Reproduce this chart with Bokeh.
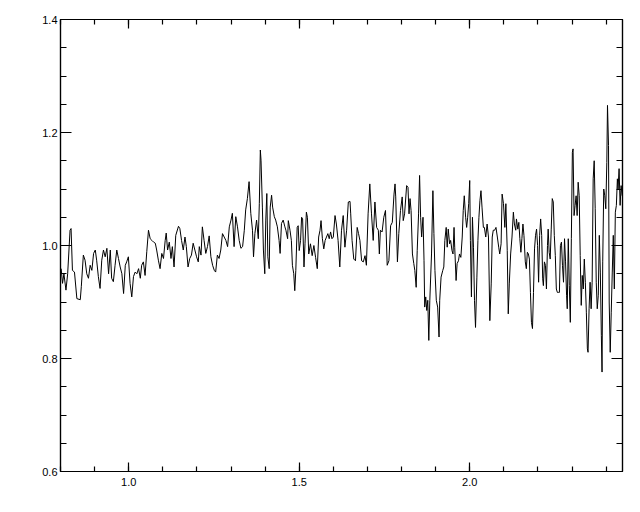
from bokeh.plotting import figure
from bokeh.models import Range1d, LinearAxis, FixedTicker, PrintfTickFormatter, CustomJSTickFormatter
from bokeh.embed import file_html
from bokeh.resources import INLINE

# ---- data (wavelength, normalised flux) ----
wl_a = [0.802,0.806,0.810,0.816,0.821,0.828,0.831,0.835,0.841,0.848,0.858,0.861,0.867,0.872,0.877,0.882,0.887,0.892,0.897,0.902,
        0.906,0.911,0.916,0.921,0.926,0.931,0.936,0.941,0.946,0.950,0.955,0.960,0.965,0.970,0.975,0.980,0.985,0.990,0.994,0.999,
        1.004,1.009,1.014,1.019,1.024,1.029,1.034,1.038,1.043,1.048,1.053,1.058,1.063,1.068,1.073,1.078,1.082,1.087,1.092,1.097,
        1.102,1.107,1.110,1.114,1.119,1.124,1.128,1.133]
flux_a = [0.959,0.933,0.950,0.921,0.950,1.027,1.030,0.956,0.953,0.906,0.904,0.927,0.983,0.974,0.950,0.942,0.965,0.956,0.986,0.992,
          0.974,0.945,0.924,0.974,0.992,0.980,0.995,0.950,0.992,0.942,0.936,0.965,0.992,0.977,0.962,0.950,0.915,0.965,0.971,0.980,
          0.933,0.909,0.945,0.953,0.950,0.959,0.942,0.965,0.971,0.947,0.989,1.027,1.012,1.009,1.006,1.004,0.992,0.974,0.959,0.986,
          0.977,1.009,1.022,0.992,1.006,0.977,0.998,0.962]

wl_b = [1.138,1.146,1.150,1.155,1.160,1.165,1.169,1.174,1.179,1.184,1.189,1.194,1.199,1.204,1.207,1.212,1.216,1.221,1.226,1.231,
        1.236,1.241,1.246,1.251,1.255,1.260,1.265,1.270,1.275,1.280,1.285,1.290,1.295,1.300,1.304,1.309,1.314,1.319,1.324,1.329,
        1.334,1.339,1.343,1.348,1.353,1.358,1.363,1.366,1.370,1.375,1.380,1.383,1.386,1.388,1.392,1.395,1.399,1.402,1.405,1.408,
        1.412,1.415,1.419,1.422,1.427,1.431,1.436,1.441,1.444,1.448,1.453,1.458,1.461,1.466]
flux_b = [1.018,1.034,1.030,1.009,0.992,1.015,0.998,0.962,0.977,0.983,1.004,0.992,0.980,0.971,0.998,0.983,1.033,1.009,0.986,0.998,
          1.017,0.980,0.965,0.956,0.953,0.983,0.977,0.992,1.021,1.015,1.009,0.998,1.033,1.045,1.057,0.998,1.051,1.033,1.009,0.995,
          0.998,1.027,1.063,1.083,1.113,1.057,1.027,0.980,1.021,1.045,1.012,1.074,1.169,1.151,1.068,0.992,0.950,1.045,1.092,0.980,
          0.959,1.068,1.089,1.068,1.051,1.045,1.033,1.009,0.986,1.039,1.045,1.033,1.027,1.012]

wl_c = [1.468,1.473,1.477,1.480,1.484,1.487,1.490,1.494,1.497,1.500,1.504,1.507,1.510,1.514,1.517,1.521,1.524,1.528,1.533,1.538,
        1.543,1.548,1.553,1.557,1.561,1.564,1.568,1.572,1.576,1.580,1.584,1.588,1.592,1.596,1.600,1.605,1.609,1.614,1.619,1.624,
        1.629,1.634,1.639,1.644,1.649,1.651,1.655,1.660,1.665,1.670,1.674,1.678,1.683,1.688,1.693,1.697,1.702,1.707,1.712,1.717,
        1.722,1.727,1.732,1.735,1.738,1.743,1.748,1.753,1.758,1.763,1.768,1.773,1.778,1.781,1.783,1.788,1.792,1.797]
flux_c = [1.044,1.027,1.009,0.965,0.950,0.920,0.956,1.032,1.035,0.991,1.009,1.050,1.047,0.962,1.003,1.059,1.050,0.985,1.003,0.982,
          1.000,0.979,0.959,1.015,1.027,1.044,1.012,0.994,1.009,1.015,1.021,1.012,1.024,1.012,1.015,1.053,1.038,1.009,0.962,1.027,
          1.053,0.997,1.027,1.077,1.078,1.056,1.009,0.976,0.973,1.032,1.021,1.009,0.973,0.971,0.982,0.965,1.056,1.109,1.056,1.009,
          1.077,1.032,1.027,0.985,1.027,1.024,1.050,1.062,0.965,0.973,1.035,1.041,1.091,1.109,1.086,0.971,1.021,1.062]

wl_d = [1.802,1.805,1.809,1.815,1.819,1.822,1.825,1.828,1.832,1.836,1.839,1.843,1.846,1.850,1.853,1.856,1.859,1.863,1.866,1.868,
        1.871,1.874,1.877,1.880,1.883,1.888,1.892,1.895,1.898,1.902,1.906,1.910,1.912,1.916,1.921,1.924,1.927,1.931,1.934,1.937,
        1.941,1.944,1.948,1.951,1.954,1.956,1.960,1.963,1.967,1.970,1.974,1.978,1.981,1.984,1.988,1.991,1.994,1.997,2.000,2.002,
        2.005,2.008,2.011,2.014,2.017,2.021,2.024,2.027,2.030,2.033,2.036,2.040,2.043,2.047,2.051,2.055,2.059,2.063,2.066,2.069,
        2.073,2.077,2.081,2.085,2.088,2.092,2.095,2.099,2.103,2.106,2.110,2.113,2.116,2.120,2.124,2.128,2.131,2.135]
flux_d = [1.086,1.044,1.056,1.106,1.103,1.056,1.083,1.062,0.985,0.968,0.956,0.926,0.991,1.056,1.124,1.050,1.015,1.050,0.973,0.891,
          0.909,0.885,0.903,0.832,0.903,0.985,1.097,1.021,0.956,0.903,0.891,0.838,0.903,0.944,0.956,0.962,1.009,1.032,0.997,1.029,
          1.003,1.009,0.991,0.985,1.032,0.997,0.938,0.968,0.973,0.985,0.979,1.015,1.062,1.088,1.050,1.032,1.050,1.074,1.115,1.009,
          0.909,1.050,0.997,0.903,0.855,0.944,1.009,1.050,1.080,1.097,1.068,1.032,1.032,1.015,1.038,1.015,0.867,0.932,1.015,1.027,
          1.027,1.032,1.015,0.997,0.985,1.003,1.091,1.074,1.032,1.074,0.991,0.879,0.932,0.985,1.015,1.059,1.038,1.027]

wl_e = [2.137,2.141,2.144,2.147,2.150,2.153,2.156,2.159,2.163,2.166,2.169,2.172,2.175,2.178,2.181,2.184,2.187,2.190,2.193,2.196,
        2.199,2.202,2.205,2.208,2.211,2.214,2.216,2.219,2.222,2.225,2.228,2.230,2.233,2.236,2.239,2.242,2.245,2.248,2.251,2.254,
        2.257,2.260,2.263,2.266,2.269,2.272,2.275,2.278,2.281,2.284,2.286,2.289,2.292,2.295,2.298,2.301,2.303,2.306,2.309,2.312,
        2.315,2.318,2.321,2.324,2.327,2.330,2.333,2.336,2.339,2.342,2.345,2.347,2.350,2.353,2.356,2.359,2.362,2.365,2.368,2.371,
        2.374,2.377,2.380,2.383,2.386,2.388,2.390,2.393,2.396,2.399,2.402,2.404,2.407,2.409,2.412,2.415,2.418,2.421,2.424,2.427,
        2.430,2.433,2.435,2.438,2.441,2.444,2.447]
flux_e = [1.047,1.029,1.041,1.012,0.988,1.012,1.038,1.018,0.971,0.959,0.988,0.985,0.976,0.917,0.864,0.853,0.917,0.994,1.018,1.029,
          1.000,0.935,1.018,1.047,1.018,0.941,0.929,0.971,0.965,0.923,1.000,1.029,0.988,0.976,1.029,1.083,1.077,1.018,0.982,0.923,
          0.917,0.917,0.917,1.000,1.006,0.965,0.935,1.012,0.971,0.912,0.888,1.012,0.929,0.864,1.012,1.165,1.171,1.053,1.071,1.088,
          1.053,1.112,1.088,0.982,0.894,0.947,0.923,0.976,0.935,0.882,0.817,0.811,0.888,0.935,0.888,0.935,1.118,1.150,1.065,0.935,
          0.888,0.912,1.018,0.953,0.841,0.776,0.971,1.100,1.088,1.065,1.147,1.248,1.177,0.900,0.811,0.882,0.953,1.018,0.923,1.059,
          1.071,1.118,1.100,1.136,1.071,1.106,1.088]

wavelength = wl_a + wl_b + wl_c + wl_d + wl_e
flux = flux_a + flux_b + flux_c + flux_d + flux_e

x_major = [1.0, 1.5, 2.0]
x_minor = [0.8, 0.9, 1.0, 1.1, 1.2, 1.3, 1.4, 1.5, 1.6, 1.7, 1.8, 1.9, 2.0, 2.1, 2.2, 2.3, 2.4]
y_major = [0.6, 0.8, 1.0, 1.2, 1.4]
y_minor = [0.6, 0.65, 0.7, 0.75, 0.8, 0.85, 0.9, 0.95, 1.0, 1.05, 1.1, 1.15, 1.2, 1.25, 1.3, 1.35, 1.4]

p = figure(width=632, height=504, x_range=Range1d(0.8, 2.448), y_range=Range1d(0.6, 1.4),
           output_backend="svg", toolbar_location=None,
           min_border_left=60, min_border_right=10, min_border_top=19, min_border_bottom=33,
           x_axis_type=None, y_axis_type=None)
p.xgrid.visible = False
p.ygrid.visible = False
p.outline_line_color = "black"
p.outline_line_width = 1.2
p.background_fill_color = "white"
p.border_fill_color = "white"

FONT = "Liberation Sans"

def style(ax, major_len, minor_len, standoff):
    ax.axis_line_color = "black"
    ax.axis_line_width = 1.2
    ax.major_tick_in = major_len
    ax.major_tick_out = 0
    ax.minor_tick_in = minor_len
    ax.minor_tick_out = 0
    ax.major_tick_line_color = "black"
    ax.minor_tick_line_color = "black"
    ax.major_tick_line_width = 1.2
    ax.minor_tick_line_width = 1.2
    ax.major_label_text_font = FONT
    ax.major_label_text_font_size = "11px"
    ax.major_label_text_color = "black"
    ax.major_label_standoff = standoff

xt = FixedTicker(ticks=x_major, minor_ticks=x_minor)
yt = FixedTicker(ticks=y_major, minor_ticks=y_minor)
fmt = PrintfTickFormatter(format="%.1f")
blank = CustomJSTickFormatter(code="return ''")

xb = LinearAxis(ticker=xt, formatter=fmt); style(xb, 9, 5, 6)
xa = LinearAxis(ticker=xt, formatter=blank); style(xa, 9, 5, 0)
yl = LinearAxis(ticker=yt, formatter=fmt); style(yl, 11, 6, 3)
yr = LinearAxis(ticker=yt, formatter=blank); style(yr, 11, 6, 0)
p.add_layout(xb, "below")
p.add_layout(xa, "above")
p.add_layout(yl, "left")
p.add_layout(yr, "right")

p.line(wavelength, flux, line_color="black", line_width=1)

open("out.html", "w").write(file_html(p, INLINE))
